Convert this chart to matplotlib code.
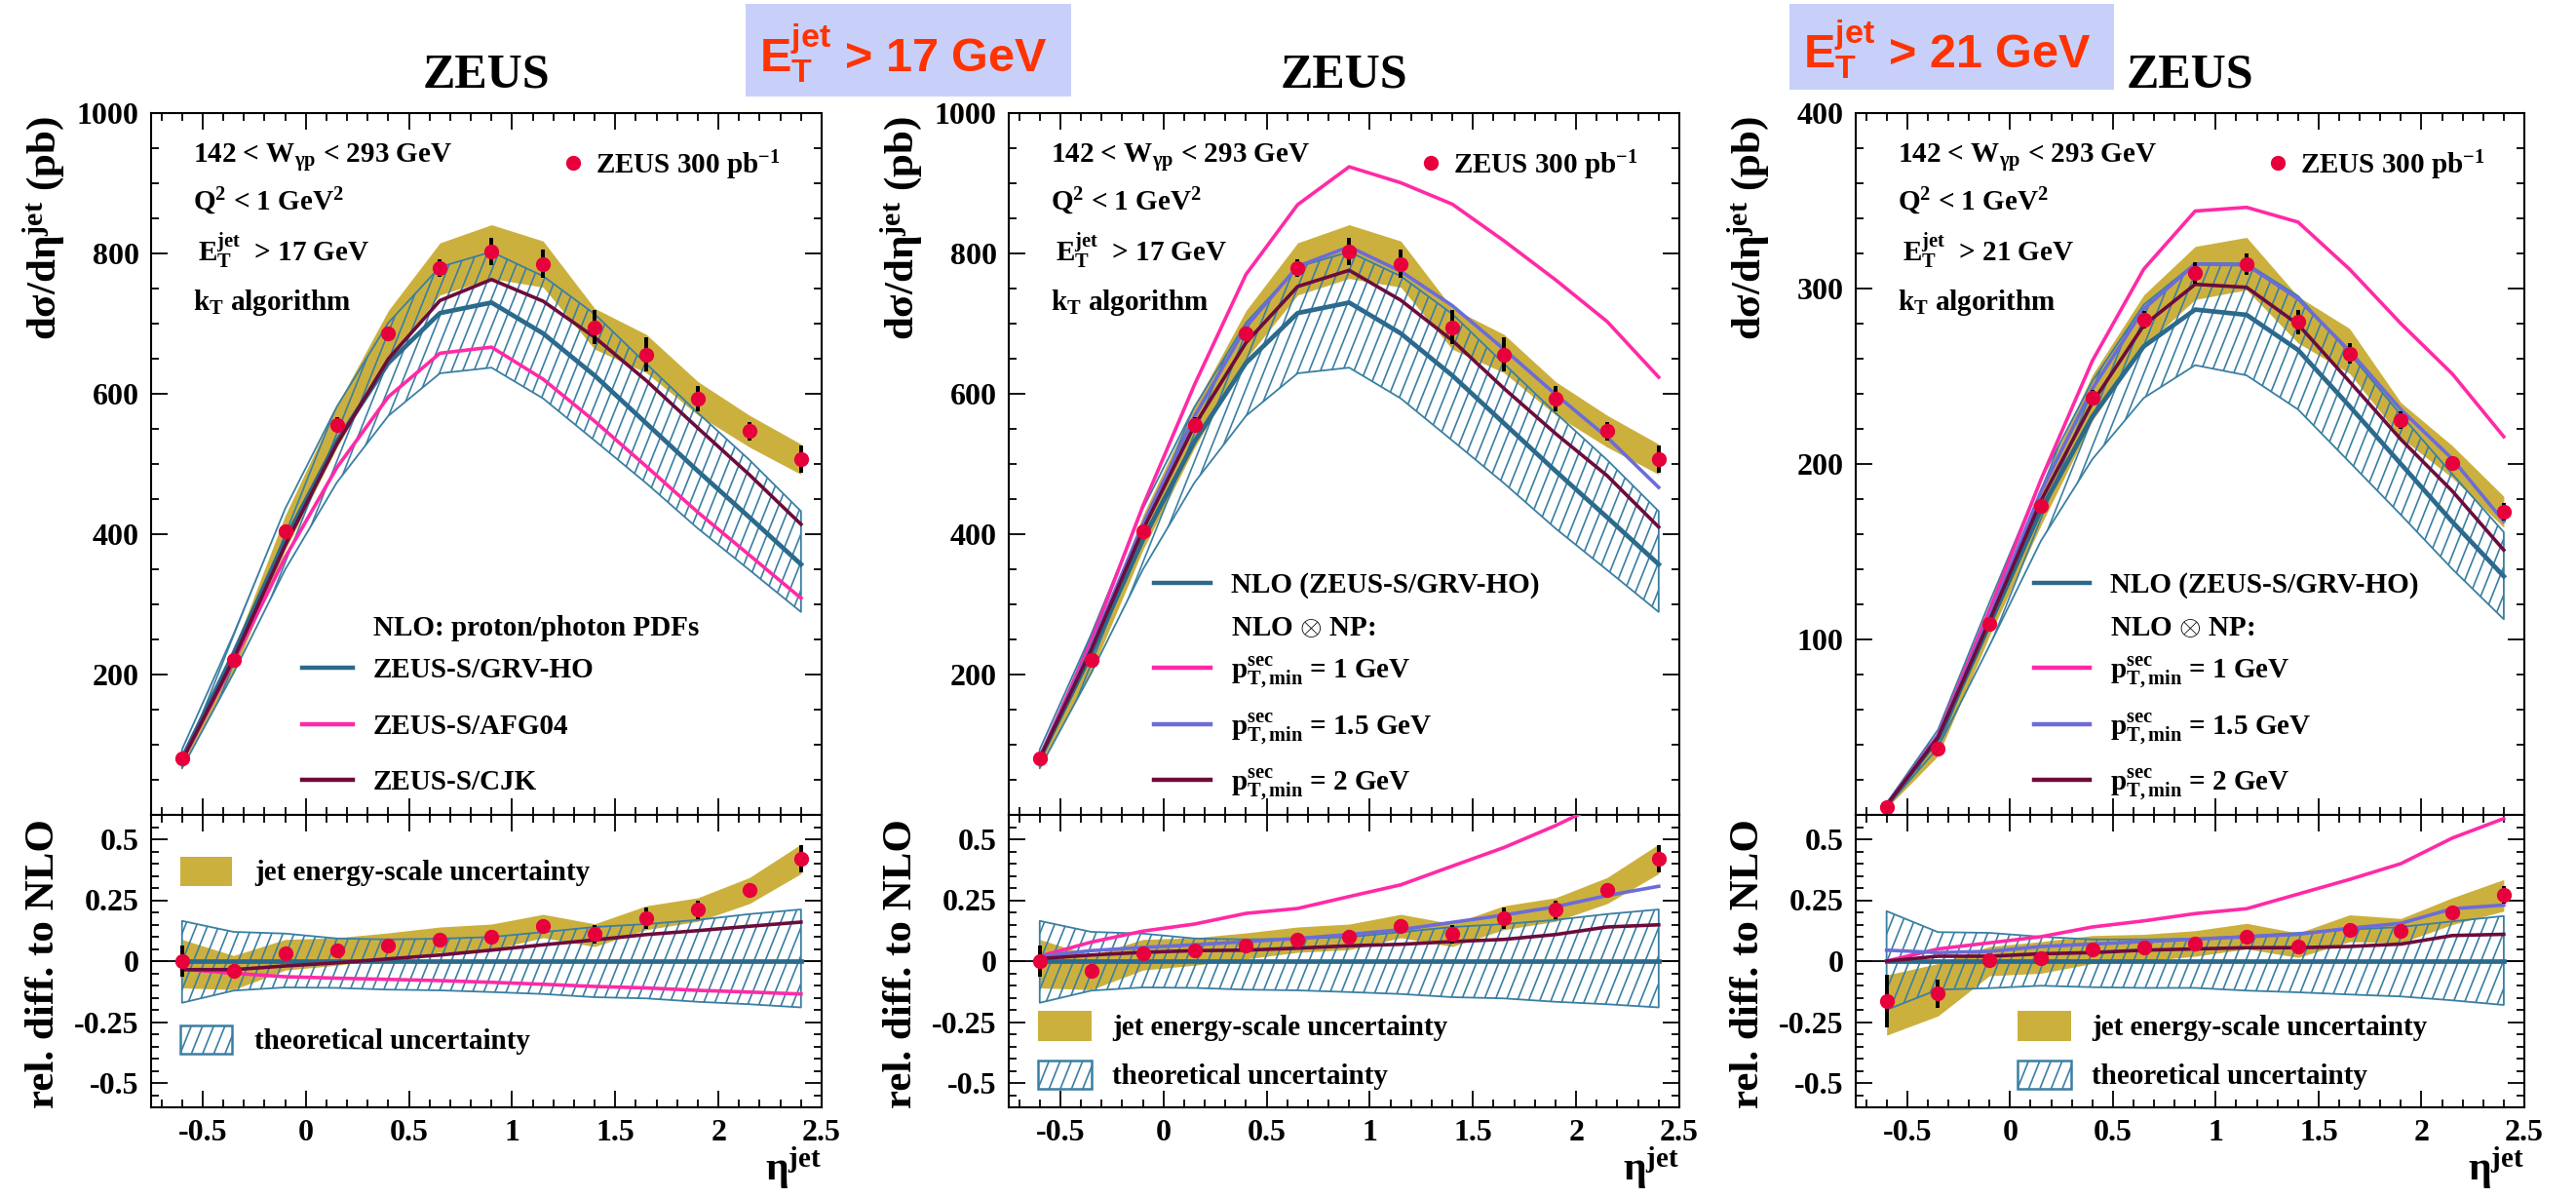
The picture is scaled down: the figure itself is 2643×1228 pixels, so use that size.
import numpy as np
import matplotlib
matplotlib.use("Agg")
import matplotlib.pyplot as plt
from matplotlib import font_manager
from matplotlib.collections import LineCollection
from matplotlib.lines import Line2D
from matplotlib.patches import Rectangle
from matplotlib.ticker import MultipleLocator

W, H = 2643, 1228

# eta^jet bin centres
eta = [-0.6, -0.35, -0.1, 0.15, 0.4, 0.65, 0.9, 1.15, 1.4, 1.65, 1.9, 2.15, 2.4]

# ---- E_T^jet > 17 GeV (pb) ----
data17 = [80, 221, 404, 556, 686, 779, 803, 785, 695, 656, 593, 547, 507]
err17 = [5, 6, 8, 10, 10, 12, 19, 20, 24, 24, 18, 13, 20]
nlo17 = [80, 230, 392, 532, 644, 715, 730, 686, 626, 558, 490, 424, 357]
# relative to NLO
th17_up = [0.165, 0.12, 0.113, 0.093, 0.089, 0.092, 0.099, 0.119, 0.14, 0.152, 0.169, 0.193, 0.212]
th17_dn = [-0.171, -0.121, -0.108, -0.11, -0.117, -0.12, -0.127, -0.135, -0.148, -0.153, -0.167, -0.177, -0.19]
jes17_up = [0.089, 0.023, 0.089, 0.096, 0.116, 0.14, 0.152, 0.192, 0.153, 0.227, 0.26, 0.343, 0.48]
jes17_dn = [-0.11, -0.117, -0.037, -0.017, 0.009, 0.036, 0.047, 0.096, 0.06, 0.129, 0.163, 0.236, 0.359]
afg17 = [-0.033, -0.05, -0.064, -0.07, -0.075, -0.08, -0.087, -0.095, -0.104, -0.11, -0.12, -0.127, -0.135]
cjk17 = [-0.035, -0.035, -0.02, -0.007, 0.009, 0.025, 0.045, 0.067, 0.087, 0.109, 0.125, 0.143, 0.16]
np1_17 = [0.02, 0.078, 0.123, 0.152, 0.196, 0.216, 0.265, 0.313, 0.39, 0.466, 0.556, 0.658, 0.747]
np15_17 = [0.02, 0.043, 0.056, 0.067, 0.08, 0.093, 0.109, 0.129, 0.159, 0.189, 0.223, 0.269, 0.307]
np2_17 = [0.01, 0.025, 0.036, 0.043, 0.045, 0.053, 0.063, 0.069, 0.08, 0.089, 0.109, 0.14, 0.149]

# ---- E_T^jet > 21 GeV (pb) ----
data21 = [4.6, 37.6, 109, 176, 238, 282, 309, 314, 281, 263, 225, 200.5, 173]
err21 = [0.6, 2.5, 3, 3, 4, 5, 6, 6, 7, 6, 5, 4, 5]
nlo21 = [5.5, 43.4, 108.5, 173.7, 227, 267, 288, 285, 265, 233, 200, 167, 136]
th21_up = [0.205, 0.119, 0.116, 0.1, 0.089, 0.089, 0.092, 0.103, 0.116, 0.129, 0.14, 0.163, 0.185]
th21_dn = [-0.2, -0.117, -0.111, -0.101, -0.107, -0.11, -0.11, -0.121, -0.128, -0.137, -0.145, -0.161, -0.18]
jes21_up = [-0.057, -0.01, 0.06, 0.08, 0.105, 0.11, 0.125, 0.155, 0.115, 0.19, 0.175, 0.26, 0.335]
jes21_dn = [-0.304, -0.225, -0.06, -0.05, -0.01, 0.0, 0.02, 0.05, 0.015, 0.08, 0.075, 0.15, 0.205]
np1_21 = [0.0, 0.05, 0.075, 0.1, 0.14, 0.165, 0.195, 0.215, 0.275, 0.335, 0.40, 0.505, 0.585]
np15_21 = [0.045, 0.035, 0.04, 0.06, 0.07, 0.08, 0.09, 0.10, 0.11, 0.135, 0.155, 0.215, 0.23]
np2_21 = [0.0, 0.02, 0.02, 0.03, 0.035, 0.045, 0.05, 0.055, 0.055, 0.06, 0.07, 0.105, 0.11]

x_ticks = [-0.5, 0, 0.5, 1, 1.5, 2, 2.5]
x_labels = ["-0.5", "0", "0.5", "1", "1.5", "2", "2.5"]
r_ticks = [-0.5, -0.25, 0, 0.25, 0.5]
r_labels = ["-0.5", "-0.25", "0", "0.25", "0.5"]

plt.rcParams["font.family"] = ["Liberation Serif", "DejaVu Serif"]
plt.rcParams["font.weight"] = "bold"
plt.rcParams["mathtext.fontset"] = "custom"
plt.rcParams["mathtext.rm"] = "Liberation Serif:bold"
plt.rcParams["mathtext.it"] = "Liberation Serif:bold"
plt.rcParams["mathtext.bf"] = "Liberation Serif:bold"

c_yel = "#ccb03e"
c_hat = "#3a7fa3"
c_nlo = "#2b6a8c"
c_mag = "#ff2aa6"
c_sla = "#6c6cd8"
c_mar = "#6c0c3c"
c_red = "#e8003c"

try:
    font_manager.findfont("Liberation Sans Narrow", fallback_to_default=False)
    box_font, box_size = "Liberation Sans Narrow", 42
except ValueError:
    box_font, box_size = "Liberation Sans", 35


def fx(x):
    return x / W


def fy(y):
    return 1 - y / H


def px_rect(x0, y0, x1, y1):
    return [x0 / W, 1 - y1 / H, (x1 - x0) / W, (y1 - y0) / H]


fig = plt.figure(figsize=(W / 100, H / 100), dpi=100)


def steep_hatch(parent, x0, y0, x1, y1, clip, clip_trans=None, spacing=11.5, slope=2.5):
    # steep ROOT-like hatching inside the pixel box, clipped to a band/patch
    shift = (y1 - y0) / slope
    xs = np.arange(x0 - shift, x1 + spacing, spacing)
    segs = [[(fx(x), fy(y1)), (fx(x + shift), fy(y0))] for x in xs]
    lc = LineCollection(segs, colors=c_hat, linewidths=1.2, transform=fig.transFigure, zorder=2)
    if clip_trans is None:
        lc.set_clip_path(clip)
    else:
        lc.set_clip_path(clip, clip_trans)
    if parent is fig:
        fig.add_artist(lc)
    else:
        parent.add_collection(lc, autolim=False)


def style(a):
    a.set_xlim(-0.75, 2.5)
    a.set_xticks(x_ticks)
    a.xaxis.set_minor_locator(MultipleLocator(0.1))
    a.tick_params(which="both", direction="in", top=True, right=True, width=1.3, labelsize=23)
    a.tick_params(which="major", length=12, pad=9)
    a.tick_params(which="minor", length=6)
    for s in a.spines.values():
        s.set_linewidth(1.5)


def draw(left, width, nlo, data, err, th_up, th_dn, jes_up, jes_dn, curves, ymax, yticks, yminor):
    nlo = np.array(nlo, float)
    data = np.array(data, float)
    err = np.array(err, float)
    th_up, th_dn = np.array(th_up), np.array(th_dn)
    jes_up, jes_dn = np.array(jes_up), np.array(jes_dn)

    ax = fig.add_axes(px_rect(left, 116, left + width, 836))
    bx = fig.add_axes(px_rect(left, 836, left + width, 1136))

    # cross sections
    ax.fill_between(eta, nlo * (1 + jes_dn), nlo * (1 + jes_up), color=c_yel, lw=0, zorder=1)
    band = ax.fill_between(eta, nlo * (1 + th_dn), nlo * (1 + th_up), facecolor="none",
                           edgecolor=c_hat, lw=1.3, zorder=2)
    steep_hatch(ax, left, 116, left + width, 836, band.get_paths()[0], ax.transData)
    ax.plot(eta, nlo, color=c_nlo, lw=3.4, zorder=3)
    for rel, col in curves:
        ax.plot(eta, nlo * (1 + np.array(rel)), color=col, lw=2.6, zorder=3)
    ax.errorbar(eta, data, yerr=err, fmt="none", ecolor="k", elinewidth=2.8, zorder=4)
    ax.plot(eta, data, "o", color=c_red, ms=10, zorder=5)
    style(ax)
    ax.set_ylim(0, ymax)
    ax.set_yticks(yticks)
    ax.set_yticklabels([str(v) for v in yticks])
    ax.yaxis.set_minor_locator(MultipleLocator(yminor))
    ax.tick_params(labelbottom=False)

    # relative difference to NLO
    bx.fill_between(eta, jes_dn, jes_up, color=c_yel, lw=0, zorder=1)
    band = bx.fill_between(eta, th_dn, th_up, facecolor="none", edgecolor=c_hat, lw=1.3, zorder=2)
    steep_hatch(bx, left, 836, left + width, 1136, band.get_paths()[0], bx.transData)
    bx.axhline(0, color="k", lw=1.3, zorder=2.5)
    bx.plot(eta, nlo / nlo - 1, color=c_nlo, lw=3.4, zorder=3)
    for rel, col in curves:
        bx.plot(eta, rel, color=col, lw=2.6, zorder=3)
    bx.errorbar(eta, data / nlo - 1, yerr=err / nlo, fmt="none", ecolor="k", elinewidth=2.8, zorder=4)
    bx.plot(eta, data / nlo - 1, "o", color=c_red, ms=10, zorder=5)
    style(bx)
    bx.set_xticklabels(x_labels)
    bx.set_ylim(-0.6, 0.6)
    bx.set_yticks(r_ticks)
    bx.set_yticklabels(r_labels)
    bx.yaxis.set_minor_locator(MultipleLocator(0.05))

    # titles and axis labels
    fig.text(fx(left + width / 2), fy(77), "ZEUS", ha="center", va="center", fontsize=36)
    fig.text(fx(left - 110), fy(234), "dσ/dη$^{jet}$ (pb)", rotation=90, ha="center", va="center", fontsize=31)
    fig.text(fx(left - 110), fy(989), "rel. diff. to NLO", rotation=90, ha="center", va="center", fontsize=31)
    fig.text(fx(left + width), fy(1198), "η$^{jet}$", ha="right", va="center", fontsize=30)

    # selection text
    cut = "17" if ymax == 1000 else "21"
    fig.text(fx(left + 43), fy(167), "142 < W$_{\\gamma p}$ < 293 GeV", fontsize=21, va="baseline")
    fig.text(fx(left + 43), fy(216), "Q$^{2}$ < 1 GeV$^{2}$", fontsize=21, va="baseline")
    fig.text(fx(left + 48), fy(268), "E$_{T}^{jet}$  > " + cut + " GeV", fontsize=21, va="baseline")
    fig.text(fx(left + 43), fy(318), "k$_{T}$ algorithm", fontsize=21, va="baseline")
    fig.add_artist(Line2D([fx(left + 433)], [fy(167)], marker="o", color=c_red, ms=10,
                          transform=fig.transFigure))
    fig.text(fx(left + 456), fy(178), "ZEUS 300 pb$^{-1}$", fontsize=21, va="baseline")
    return ax, bx


def leg_line(x0, x1, y, col, lw=3.2):
    fig.add_artist(Line2D([fx(x0), fx(x1)], [fy(y), fy(y)], color=col, lw=lw, transform=fig.transFigure))


def leg_boxes(x0, x1, y_yel, y_hat, tx, tb_yel, tb_hat):
    fig.add_artist(Rectangle((fx(x0), fy(y_yel[1])), (x1 - x0) / W, (y_yel[1] - y_yel[0]) / H,
                             color=c_yel, lw=0, transform=fig.transFigure))
    rect = Rectangle((fx(x0), fy(y_hat[1])), (x1 - x0) / W, (y_hat[1] - y_hat[0]) / H,
                     facecolor="white", edgecolor=c_hat, lw=1.8, transform=fig.transFigure, zorder=1)
    fig.add_artist(rect)
    steep_hatch(fig, x0, y_hat[0], x1, y_hat[1], rect)
    fig.text(fx(tx), fy(tb_yel), "jet energy-scale uncertainty", fontsize=21, va="baseline")
    fig.text(fx(tx), fy(tb_hat), "theoretical uncertainty", fontsize=21, va="baseline")


# panel 1: PDF comparison
L1, L2, L3 = 155, 1035, 1904
draw(L1, 688, nlo17, data17, err17, th17_up, th17_dn, jes17_up, jes17_dn,
     [(afg17, c_mag), (cjk17, c_mar)], 1000, [200, 400, 600, 800, 1000], 50)
fig.text(fx(L1 + 228), fy(652), "NLO: proton/photon PDFs", fontsize=21, va="baseline")
for y, col, lab in [(685, c_nlo, "ZEUS-S/GRV-HO"), (743, c_mag, "ZEUS-S/AFG04"), (800, c_mar, "ZEUS-S/CJK")]:
    leg_line(L1 + 155, L1 + 207, y, col)
    fig.text(fx(L1 + 228), fy(y + 10), lab, fontsize=21, va="baseline")
leg_boxes(L1 + 30, L1 + 83, (879, 909), (1052, 1081), L1 + 106, 903, 1076)

# panel 2: hadronisation corrections, E_T > 17 GeV
draw(L2, 688, nlo17, data17, err17, th17_up, th17_dn, jes17_up, jes17_dn,
     [(np1_17, c_mag), (np15_17, c_sla), (np2_17, c_mar)], 1000, [200, 400, 600, 800, 1000], 50)

# panel 3: E_T > 21 GeV
draw(L3, 686, nlo21, data21, err21, th21_up, th21_dn, jes21_up, jes21_dn,
     [(np1_21, c_mag), (np15_21, c_sla), (np2_21, c_mar)], 400, [100, 200, 300, 400], 20)

for L, lx0, lx1, tx, bx0, bx1, btx in [(L2, 149, 207, 228, 30, 85, 106), (L3, 183, 240, 261, 166, 221, 242)]:
    leg_line(L + lx0, L + lx1, 598, c_nlo)
    fig.text(fx(L + tx), fy(608), "NLO (ZEUS-S/GRV-HO)", fontsize=21, va="baseline")
    fig.text(fx(L + tx), fy(652), "NLO $\\otimes$ NP:", fontsize=21, va="baseline")
    for y, col, lab in [(685, c_mag, "1"), (743, c_sla, "1.5"), (800, c_mar, "2")]:
        leg_line(L + lx0, L + lx1, y, col)
        fig.text(fx(L + tx), fy(y + 10), "p$_{T,min}^{sec}$ = " + lab + " GeV", fontsize=21, va="baseline")
    leg_boxes(L + bx0, L + bx1, (1037, 1068), (1088, 1117), L + btx, 1062, 1112)

# highlighted cut labels
for x0, x1, y1, cut in [(765, 1099, 99, "17"), (1836, 2169, 92, "21")]:
    fig.add_artist(Rectangle((fx(x0), fy(y1)), (x1 - x0) / W, (y1 - 4) / H, color="#c8d0fa", lw=0,
                             transform=fig.transFigure, zorder=0))
    fig.text(fx(x0 + 14), fy(y1 / 2 + 5), "E$_{\\mathregular{T}}^{\\mathregular{jet}}$ > " + cut + " GeV",
             family=box_font, fontsize=box_size, color="#ff3300", va="center", ha="left")

fig.savefig("out.png", dpi=100)
